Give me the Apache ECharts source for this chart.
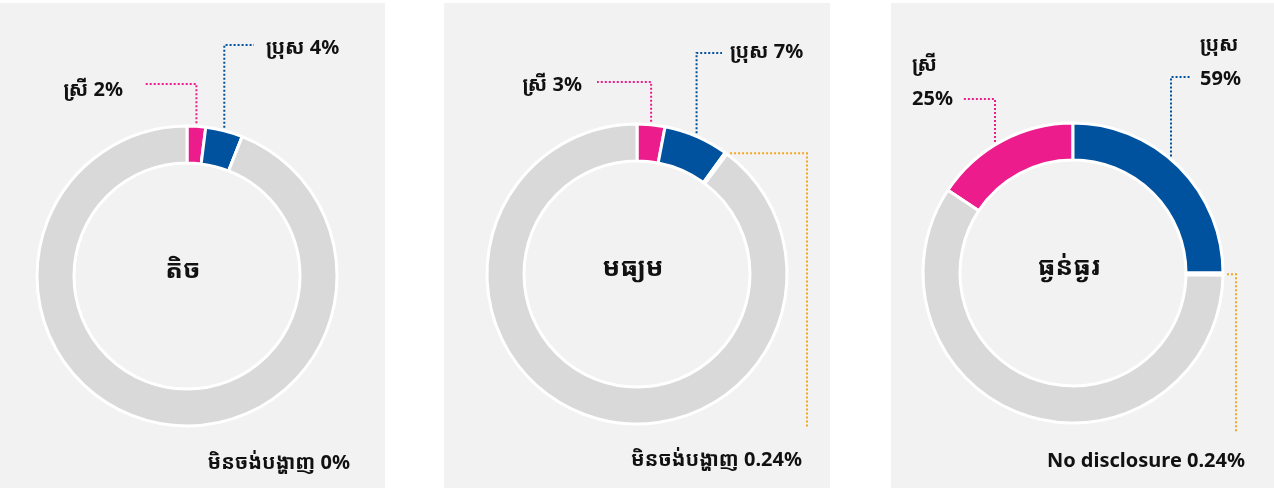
<!DOCTYPE html>
<html>
<head>
<meta charset="utf-8">
<title>donuts</title>
<script src="https://cdn.jsdelivr.net/npm/echarts@6/dist/echarts.min.js"></script>
<style>
    html, body {margin: 0; padding: 0; background: #fff;}
    #main {width: 1274px; height: 488px;}
</style>
</head>
<body>
<div id="main"></div>
<script>
// 数据
var groupNames = ['តិច', 'មធ្យម', 'ធ្ងន់ធ្ងរ'];
var womenNames = ['ស្រី', 'ស្រី', 'ស្រី'];
var menNames = ['ប្រុស', 'ប្រុស', 'ប្រុស'];
var noDisclosureNames = ['មិនចង់បង្ហាញ', 'មិនចង់បង្ហាញ', 'No disclosure'];
// arc sizes (out of 100)
var womenArc = [2, 3, 15.7];
var menArc = [4, 7, 25];
var noDisclosureArc = [0, 0.24, 0.24];
// percentages printed on the labels
var womenText = ['2%', '3%', '25%'];
var menText = ['4%', '7%', '59%'];
var noDisclosureText = ['0%', '0.24%', '0.24%'];

var donutChart = {};
donutChart.font = "'Noto Sans', 'Noto Sans Khmer', sans-serif";
donutChart.colors = {women: '#ec1c8c', men: '#00529f', none: '#f5a623', rest: '#d9d9d9'};
donutChart.centers = [[187, 276], [637, 274], [1073, 273]];
donutChart.outerR = 150;
donutChart.panels = [[0, 385], [444, 830], [891, 1280]];
// where each label sits, and where its dotted leader bends
// (vx: move the vertical leader sideways along the ring)
donutChart.spots = [
    [
        {x: 123, y: 90, align: 'right', elbowY: 84, endX: 145},
        {x: 266, y: 48, align: 'left', elbowY: 45, endX: 254},
        {x: 350, y: 463, align: 'right'}
    ],
    [
        {x: 582, y: 85, align: 'right', elbowY: 82, endX: 597},
        {x: 730, y: 52, align: 'left', elbowY: 53, endX: 722},
        {x: 802, y: 460, align: 'right', lineX: 807, lineEndY: 427}
    ],
    [
        {x: 912, y: 82, align: 'left', elbowY: 99, endX: 963, vx: 995},
        {x: 1200, y: 62, align: 'left', elbowY: 77, endX: 1190, vx: 1171},
        {x: 1245, y: 461, align: 'right', lineX: 1236, lineEndY: 433}
    ]
];

donutChart.labelLayout = function (s) {
    return function (params) {
        var spot = donutChart.spots[s][params.dataIndex];
        if (!spot) {
            return {};
        }
        var out = {x: spot.x, y: spot.y, align: spot.align, verticalAlign: 'middle'};
        var pts = params.labelLinePoints;
        if (pts && pts.length) {
            var p0 = pts[0];
            if (spot.elbowY != null) {
                var sx = p0[0], sy = p0[1] - 3;
                if (spot.vx != null) {
                    var c = donutChart.centers[s];
                    var dx = spot.vx - c[0];
                    sx = spot.vx;
                    sy = c[1] - Math.sqrt(donutChart.outerR * donutChart.outerR - dx * dx) - 3;
                }
                out.labelLinePoints = [[sx, sy], [sx, spot.elbowY], [spot.endX, spot.elbowY]];
            } else if (spot.lineX != null) {
                out.labelLinePoints = [[p0[0] + 4, p0[1]], [spot.lineX, p0[1]], [spot.lineX, spot.lineEndY]];
            }
        }
        return out;
    };
};

donutChart.buildSeries = function (i) {
    var c = donutChart.colors;
    var sep = i === 2 ? '\n' : ' ';
    var rest = 100 - womenArc[i] - menArc[i] - noDisclosureArc[i];
    var line = function (color, show) {
        return {show: show, lineStyle: {color: color, type: [2, 2], width: 2}};
    };
    return {
        type: 'pie',
        silent: true,
        center: donutChart.centers[i],
        radius: [113, donutChart.outerR],
        // third ring starts where the pink arc begins
        startAngle: i === 2 ? 90 + womenArc[i] * 3.6 : 90,
        clockwise: true,
        avoidLabelOverlap: false,
        minShowLabelAngle: 0,
        itemStyle: {borderColor: '#fff', borderWidth: 3},
        label: {
            show: true,
            position: 'outside',
            color: '#111',
            fontFamily: donutChart.font,
            fontSize: 20,
            fontWeight: 'bold',
            lineHeight: 34
        },
        labelLine: {show: true, length: 10, length2: 10},
        labelLayout: donutChart.labelLayout(i),
        emphasis: {disabled: true},
        data: [
            {name: womenNames[i], value: womenArc[i], itemStyle: {color: c.women},
                label: {formatter: womenNames[i] + sep + womenText[i]}, labelLine: line(c.women, true)},
            {name: menNames[i], value: menArc[i], itemStyle: {color: c.men},
                label: {formatter: menNames[i] + sep + menText[i]}, labelLine: line(c.men, true)},
            {name: noDisclosureNames[i], value: noDisclosureArc[i], itemStyle: {color: c.none},
                label: {formatter: noDisclosureNames[i] + ' ' + noDisclosureText[i]},
                labelLine: line(c.none, noDisclosureArc[i] > 0)},
            {name: 'rest', value: rest, itemStyle: {color: c.rest},
                label: {show: false}, labelLine: {show: false}}
        ]
    };
};

donutChart.render = function () {
    var myChart = echarts.init(document.getElementById('main'), null, {renderer: 'canvas'});
    var graphics = [];
    var series = [];
    for (var i = 0; i < 3; i++) {
        var p = donutChart.panels[i];
        graphics.push({
            type: 'rect', z: -10, silent: true,
            shape: {x: p[0], y: 3, width: p[1] - p[0], height: 490},
            style: {fill: '#f2f2f2'}
        });
        graphics.push({
            type: 'text', z: 10, silent: true,
            x: donutChart.centers[i][0] - 4, y: donutChart.centers[i][1] - 5,
            style: {
                text: groupNames[i], fill: '#111',
                font: 'bold 26px ' + donutChart.font,
                align: 'center', verticalAlign: 'middle',
                textAlign: 'center', textVerticalAlign: 'middle'
            }
        });
        series.push(donutChart.buildSeries(i));
    }
    myChart.setOption({
        backgroundColor: '#fff',
        animation: false,
        graphic: graphics,
        series: series
    });
};

donutChart.render();
</script>
</body>
</html>
